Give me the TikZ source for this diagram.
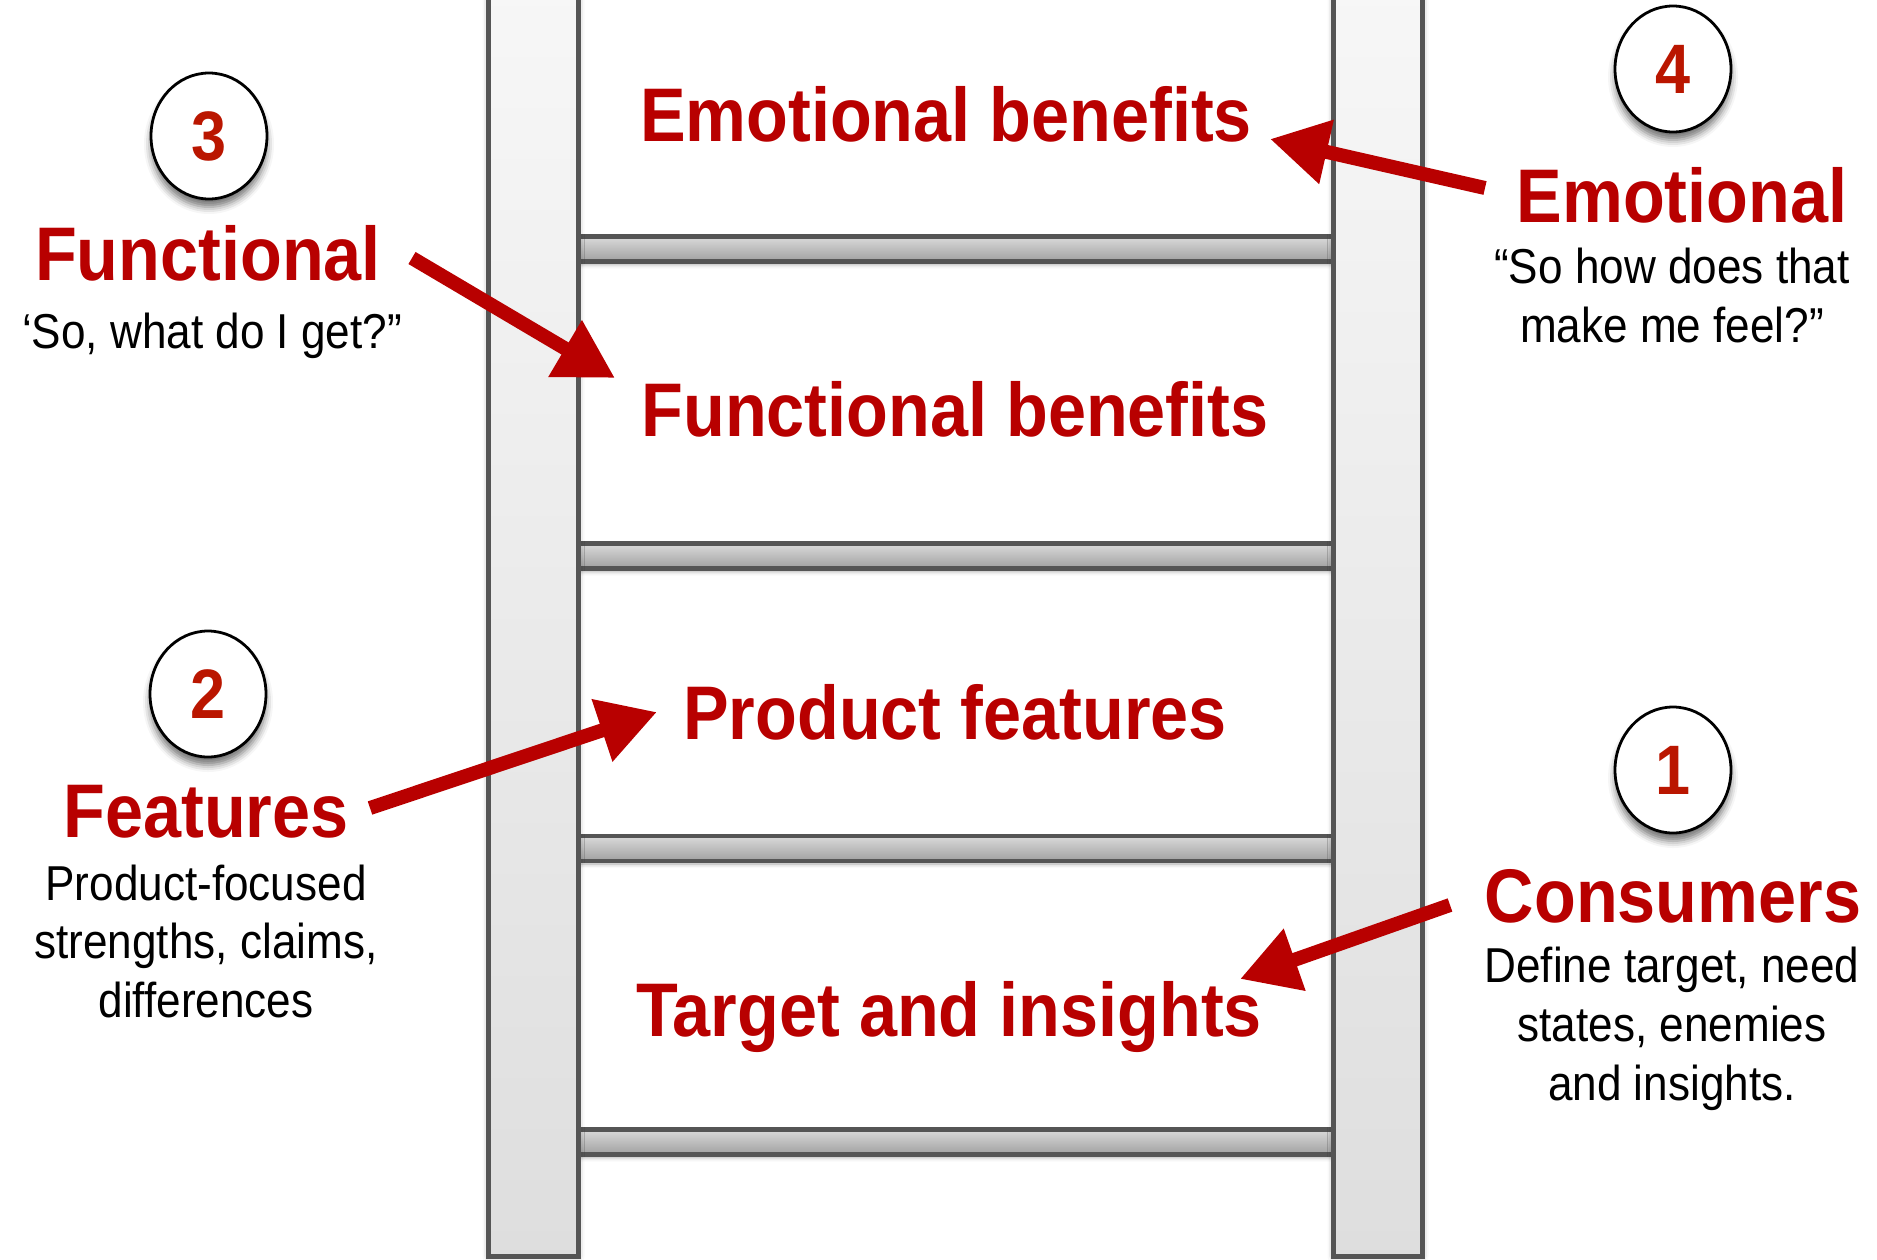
\documentclass[tikz,border=0pt]{standalone}
\usepackage{fontspec}
\setmainfont{Liberation Sans}[FakeStretch=0.9]
\usetikzlibrary{arrows.meta,shapes.geometric,shadows.blur}
\definecolor{ladred}{RGB}{184,0,0}
\definecolor{numred}{RGB}{186,22,0}
\definecolor{railedge}{RGB}{85,85,85}
\definecolor{railtop}{RGB}{247,247,247}
\definecolor{railbot}{RGB}{222,222,222}
\definecolor{rungtop}{RGB}{218,218,218}
\definecolor{rungbot}{RGB}{160,160,160}
\tikzset{
  rail/.style={draw=railedge, line width=4.5pt, top color=railtop, bottom color=railbot,
    blur shadow={shadow xshift=0pt, shadow yshift=0pt, shadow blur radius=6pt, shadow opacity=35}},
  rungfill/.style={top color=rungtop, bottom color=rungbot,
    blur shadow={shadow xshift=0pt, shadow yshift=-3pt, shadow blur radius=4pt, shadow opacity=35}},
  rungedge/.style={draw=railedge, line width=4.5pt},
  steplabel/.style={font=\bfseries\fontsize{76}{80}\selectfont, text=ladred, anchor=base, inner sep=0pt},
  note/.style={font=\fontsize{49}{58}\selectfont, text=black, anchor=base, inner sep=0pt},
  numcirc/.style={ellipse, draw=black, line width=2.8pt, fill=white, minimum width=116pt,
    minimum height=126pt, inner sep=0pt, font=\bfseries\fontsize{70}{70}\selectfont, text=numred,
    blur shadow={shadow xshift=0pt, shadow yshift=-8pt, shadow blur radius=7pt, shadow opacity=55}},
  bigarrow/.style={draw=ladred, line width=14pt, -{Triangle[length=58pt,width=62pt]}}
}
\begin{document}
\begin{tikzpicture}[x=1pt,y=-1pt]
\useasboundingbox (0,0) rectangle (1877,1259);
\clip (0,0) rectangle (1877,1259);
% rungs
\foreach \t/\b in {236.5/261.5, 543.5/568.5, 836/861, 1129.5/1154.5}{
  \path[rungfill] (578.5,\t) rectangle (1333.5,\b);
  \draw[rungedge] (578.5,\t) -- (1333.5,\t);
  \draw[rungedge] (578.5,\b) -- (1333.5,\b);
}
% rails
\path[rail] (488.5,-20) rectangle (578.5,1256.5);
\path[rail] (1333.5,-20) rectangle (1422.5,1256.5);
% ladder labels
\node[steplabel] (emob) at (946,141) {Emotional benefits};
\node[steplabel] (funb) at (955,436) {Functional benefits};
\node[steplabel] (prodf) at (955,739) {Product features};
\node[steplabel] (targ) at (949,1036) {Target and insights};
% circles
\node[numcirc] (c3) at (209,136) {3};
\node[numcirc] (c2) at (208,694) {2};
\node[numcirc] (c4) at (1673,69) {4};
\node[numcirc] (c1) at (1673,770) {1};
% left side
\node[steplabel] (funt) at (208,280) {Functional};
\node[note] (funq) at (212,348) {‘So, what do I get?”};
\node[steplabel] (feat) at (206,837) {Features};
\node[note] (feata) at (206,900) {Product-focused};
\node[note] (featb) at (206,958) {strengths, claims,};
\node[note] (featc) at (206,1017) {differences};
% right side
\node[steplabel] (emot) at (1682,222) {Emotional};
\node[note] (emoqa) at (1672,283) {“So how does that};
\node[note] (emoqb) at (1672,342) {make me feel?”};
\node[steplabel] (cons) at (1673,922) {Consumers};
\node[note] (consa) at (1672,982) {Define target, need};
\node[note] (consb) at (1672,1041) {states, enemies};
\node[note] (consc) at (1672,1100) {and insights.};
% arrows
\coordinate (a3s) at (412,258); \coordinate (a3e) at (615,378);
\coordinate (a4s) at (1485,188); \coordinate (a4e) at (1270,139);
\coordinate (a2s) at (370,808); \coordinate (a2e) at (657,712);
\coordinate (a1s) at (1450,905); \coordinate (a1e) at (1240,979);
\draw[bigarrow] (a3s) -- (a3e);
\draw[bigarrow] (a4s) -- (a4e);
\draw[bigarrow] (a2s) -- (a2e);
\draw[bigarrow] (a1s) -- (a1e);
\end{tikzpicture}
\end{document}
